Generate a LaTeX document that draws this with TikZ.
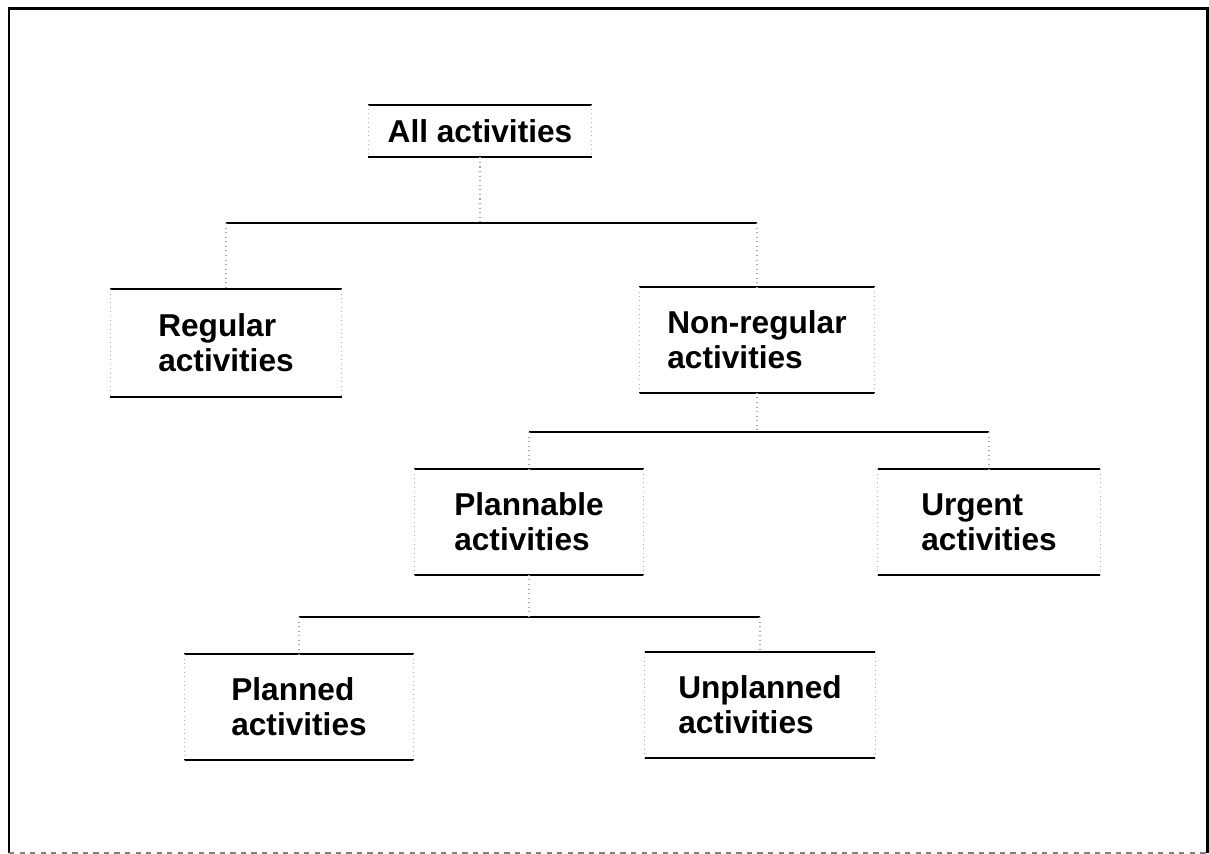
\documentclass[tikz,border=0pt]{standalone}
\usepackage{fontspec}
\setmainfont{Liberation Sans}
\usepackage{tikz}

\tikzset{
	actbox/.style={font=\bfseries\fontsize{18}{20}\selectfont, align=left, inner sep=0pt,
		minimum width=4.6cm, minimum height=2.1cm},
	edge/.style={line width=1pt},
	side/.style={gray!60, dotted, line width=0.5pt},
	bus/.style={line width=0.8pt},
	drop/.style={gray!70, dotted, line width=0.6pt},
	frame/.style={line width=1.7pt}
}

\begin{document}
\begin{tikzpicture}[x=0.02cm, y=-0.02cm]
	\useasboundingbox (0,0) rectangle (1209,854);
	
	% outer frame
	\draw[frame] (9,853) -- (9,9) -- (1207,9) -- (1207,853);
	\draw[gray, dashed, line width=0.8pt] (9,853) -- (1207,853);
	
	% boxes
	\node[actbox, minimum width=4.46cm, minimum height=1.04cm] (all) at (480,131) {All activities};
	\node[actbox, minimum width=4.62cm, minimum height=2.14cm] (reg) at (226,343) {Regular\\activities};
	\node[actbox, minimum width=4.7cm] (nonreg) at (757,340) {Non-regular\\activities};
	\node[actbox, minimum width=4.58cm] (plan) at (529,522) {Plannable\\activities};
	\node[actbox, minimum width=4.44cm] (urg) at (989,522) {Urgent\\activities};
	\node[actbox, minimum width=4.58cm] (pld) at (299,707) {Planned\\activities};
	\node[actbox] (unpl) at (760,705) {Unplanned\\activities};
	
	\foreach \n in {all, reg, nonreg, plan, urg, pld, unpl}{
		\draw[edge] (\n.north west) -- (\n.north east);
		\draw[edge] (\n.south west) -- (\n.south east);
		\draw[side] (\n.north west) -- (\n.south west);
		\draw[side] (\n.north east) -- (\n.south east);
	}
	
	% connectors
	\coordinate (b1) at (483,223);
	\coordinate (b2) at (762,432);
	\coordinate (b3) at (530,617);
	
	\draw[bus] (reg.north |- b1) -- (nonreg.north |- b1);
	\draw[drop] (all.south) -- (all.south |- b1);
	\draw[drop] (reg.north |- b1) -- (reg.north);
	\draw[drop] (nonreg.north |- b1) -- (nonreg.north);
	
	\draw[bus] (plan.north |- b2) -- (urg.north |- b2);
	\draw[drop] (nonreg.south) -- (nonreg.south |- b2);
	\draw[drop] (plan.north |- b2) -- (plan.north);
	\draw[drop] (urg.north |- b2) -- (urg.north);
	
	\draw[bus] (pld.north |- b3) -- (unpl.north |- b3);
	\draw[drop] (plan.south) -- (plan.south |- b3);
	\draw[drop] (pld.north |- b3) -- (pld.north);
	\draw[drop] (unpl.north |- b3) -- (unpl.north);
	
\end{tikzpicture}
\end{document}
